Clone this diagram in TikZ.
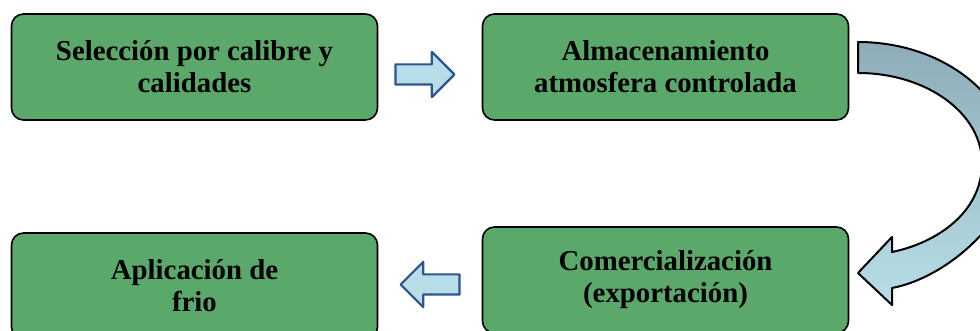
\documentclass[tikz,border=0pt]{standalone}
\usepackage{fontspec}
\setmainfont{Liberation Serif}
\usetikzlibrary{shapes.arrows}
\definecolor{verde}{RGB}{90,169,106}
\definecolor{celeste}{RGB}{183,222,232}
\definecolor{azulgris}{RGB}{141,173,184}
\definecolor{azulborde}{RGB}{47,84,143}
\begin{document}
\begin{tikzpicture}[
        x=0.5pt,y=-0.5pt,
        proceso/.style={draw,line width=0.8pt,fill=verde,rounded corners=6pt,
            minimum width=183pt,minimum height=53pt,align=center,
            font=\fontsize{14.4}{16}\selectfont\bfseries},
        flecha/.style={single arrow,draw=azulborde,fill=celeste,line width=1.1pt,
            minimum height=29.5pt,minimum width=21.5pt,inner sep=4.5pt,
            single arrow head extend=6.25pt},
        line join=round
    ]
    \useasboundingbox (0,0) rectangle (980,331);
    \clip (0,0) rectangle (980,331);
    % cajas
    \node[proceso] (sel) at (194.5,67) {Selección por calibre y\\calidades};
    \node[proceso] (alm) at (665.5,67) {Almacenamiento\\atmosfera controlada};
    \node[proceso] (com) at (665.5,280) {Comercialización\\(exportación)};
    \node[proceso] (apl) at (194.5,286) {Aplicación de\\frio};
    % flechas
    \node[flecha,anchor=tip] (f1) at (456,74.5) {};
    \node[flecha,shape border rotate=180,anchor=tip] (f2) at (399,284.5) {};
    % flecha curva
    \draw[line width=1pt,top color=azulgris,bottom color=celeste]
    (858,42) .. controls (943.6,42) and (1013,97.1) .. (1013,165)
    .. controls (1013,220) and (946,278) .. (892,288)
    -- (892,305) -- (858,273) -- (892,237) -- (892,252)
    .. controls (936,243) and (982,213) .. (982,163)
    .. controls (982,113.3) and (926.5,73) .. (858,73)
    -- cycle;
\end{tikzpicture}
\end{document}
